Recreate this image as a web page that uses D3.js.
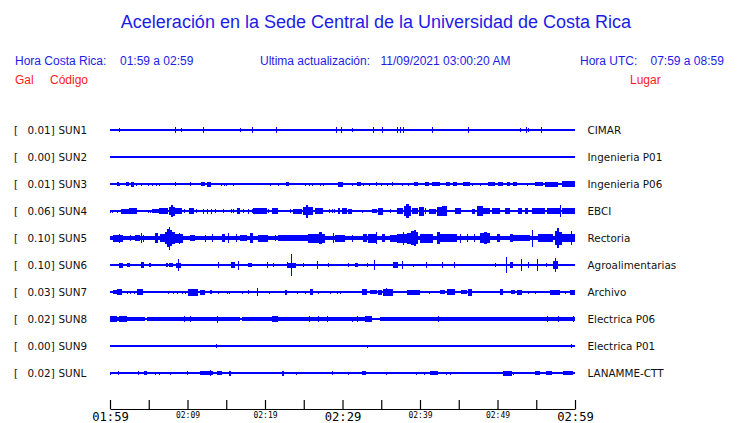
<!DOCTYPE html>
<html>
<head>
<meta charset="utf-8">
<script src="https://cdn.jsdelivr.net/npm/d3@7/dist/d3.min.js"></script>
<style>
  html, body { margin: 0; padding: 0; background: #ffffff; }
  svg { display: block; }
</style>
</head>
<body>
<svg id="chart" width="740" height="423"></svg>
<script>
// ---------------- DATA ----------------
const titleText = "Aceleración en la Sede Central de la Universidad de Costa Rica";
const headerLocal = ["Hora Costa Rica:", "01:59 a 02:59"];
const headerUpdate = ["Ultima actualización:", "11/09/2021 03:00:20 AM"];
const headerUtc = ["Hora UTC:", "07:59 a 08:59"];
const columnHeads = ["Gal", "Código", "Lugar"];

const stations = ["SUN1", "SUN2", "SUN3", "SUN4", "SUN5", "SUN6", "SUN7", "SUN8", "SUN9", "SUNL"];
const places = ["CIMAR", "Ingenieria P01", "Ingenieria P06", "EBCI", "Rectoria",
                "Agroalimentarias", "Archivo", "Electrica P06", "Electrica P01", "LANAMME-CTT"];
const peakGal = [0.01, 0.00, 0.01, 0.06, 0.10, 0.10, 0.03, 0.02, 0.00, 0.02];
// background noise half-amplitude of each trace (relative units)
const baseNoise = [1, 1, 1, 1, 2.2, 1, 1, 1, 1, 1];

// time axis (minutes after 01:59)
const timeDomain = [0, 60];
const tickMinutes = [0, 5, 10, 15, 20, 25, 30, 35, 40, 45, 50, 55, 60];
const tickLabels = ["01:59", "", "02:09", "", "02:19", "", "02:29", "", "02:39", "", "02:49", "", "02:59"];
const majorTickLabels = ["01:59", "02:29", "02:59"];

// envelope bursts per trace: [start minute, end minute, half amplitude]
const sun1Events = [[1.2,1.35,2],[8.43,8.57,3],[9.12,9.26,2],[12.04,12.18,3],[16.81,16.95,2],[18.36,18.5,3],
  [21.46,21.6,3],[29.2,29.34,3],[29.85,29.99,3],[31.19,31.33,2],[33.97,34.11,3],[35.14,35.28,3],
  [37.07,37.21,3],[37.42,37.56,3],[37.85,37.99,3],[41.59,41.73,3],[46.23,46.37,3],[52.9,53.04,2],
  [53.68,53.82,3],[53.97,54.11,2],[55.65,55.79,3]];
const sun2Events = [];
const sun3Events = [[0.86,1.1,2],[1.2,1.35,1.5],[2.06,2.49,2],[2.71,3.14,2.5],[3.32,3.45,1.5],[4.0,4.13,1.5],
  [4.86,5.0,1.5],[5.46,5.6,1.5],[5.94,6.08,1.5],[6.36,6.5,1.5],[8.43,8.57,2],[10.36,10.5,2],[11.7,12.26,2],
  [12.48,13.03,2.5],[14.28,14.42,1.5],[14.71,14.85,1.5],[15.01,15.15,1.5],[15.87,16.0,1.5],[20.68,20.82,1.5],
  [21.68,21.82,1.5],[22.71,23.1,2],[25.2,25.34,1.5],[25.64,25.78,1.5],[26.06,26.2,1.5],[27.1,27.24,1.5],
  [27.52,27.66,1.5],[29.46,30.1,2.5],[31.19,31.33,1.5],[31.83,32.35,2],[32.6,32.74,1.5],[33.46,33.6,1.5],
  [34.32,34.46,2],[34.97,35.1,1.5],[35.7,35.84,1.5],[36.35,36.56,2],[37.64,37.78,1.5],[38.49,38.63,1.5],
  [39.23,39.78,2],[40.65,41.2,2],[41.5,42.58,2.2],[43.35,43.87,2],[44.22,44.74,2],[45.59,46.45,1.8],
  [46.75,46.9,1.5],[47.74,47.88,1.5],[48.81,49.68,2.2],[50.1,50.75,2],[51.19,51.61,1.8],[52.04,52.48,1.8],
  [53.77,53.9,1.5],[54.84,55.91,2.2],[56.13,57.85,2.5],[58.28,60,2.8]];
const sun4Events = [[0.0,0.15,1.5],[0.3,0.45,1.5],[0.86,1.0,1.5],[1.38,2.5,2.5],[2.5,3.45,2.8],[4.86,5.0,1.5],
  [5.16,5.3,1.5],[5.38,6.3,2],[6.3,7.52,3],[7.61,7.85,4],[7.85,8.1,5.8],[8.1,8.39,4.5],[8.39,9.25,2.8],
  [9.59,9.73,2],[10.19,10.88,2.8],[11.06,11.2,2],[11.96,12.1,2.5],[12.48,12.62,2.5],[12.99,13.13,2.5],
  [13.55,13.69,2],[14.62,14.76,2],[15.57,15.71,2],[15.83,15.97,2],[16.35,16.77,3],[17.2,17.34,2],
  [17.85,17.99,2.5],[18.28,18.42,2],[18.49,20.22,2.6],[20.43,20.57,2],[20.86,21.64,2.8],[23.26,23.4,2],
  [23.65,24.74,2.5],[24.94,25.25,4],[25.25,25.6,6.5],[25.6,26.23,4],[26.45,27.52,2.8],[28.26,28.4,2],
  [28.61,28.75,2],[28.94,29.08,2],[29.38,29.68,2.8],[29.9,30.54,2.8],[30.71,31.19,2.5],[32.48,32.62,1.5],
  [33.77,34.41,2.2],[34.62,35.26,3.5],[36.13,36.27,2],[36.99,37.85,3],[37.97,38.2,5],[38.2,38.55,7],
  [38.55,38.8,5],[38.93,39.78,3],[39.91,40.52,4.5],[40.6,40.8,3],[41.2,42.06,2.5],[42.15,42.8,4.5],
  [42.8,43.45,5],[44.52,45.25,3],[46.67,47.1,2.5],[47.32,48.17,5],[48.17,49.03,3],[49.25,50.32,3],
  [50.97,51.61,3],[52.68,53.12,3],[53.55,53.97,3],[54.41,56.13,2.8],[56.35,58.0,2.8],[58.0,58.15,6],
  [58.28,60,3]];
const sun5Events = [[0.43,1.72,3.5],[1.2,1.35,4.5],[2.58,2.72,3],[3.23,3.87,3.2],[4.0,4.13,5],[4.3,4.44,3.5],
  [5.85,6.15,5],[6.45,7.1,4],[7.1,7.4,6],[7.4,7.55,9],[7.55,7.75,11.5],[7.75,8.0,8],[8.0,8.4,6],
  [8.4,9.46,4.5],[8.9,9.04,5.5],[10.32,10.97,3.2],[12.26,12.4,3.5],[13.12,13.26,4],[14.49,14.84,4],
  [15.26,15.4,5],[16.26,16.4,4],[16.77,17.64,3.2],[18.06,18.49,5],[19.1,20.39,3.5],[21.29,21.43,3],
  [21.68,25.55,3],[25.59,27.74,4.5],[27.0,27.3,5.7],[28.74,28.88,5],[29.03,30.32,3.5],[31.19,31.33,3.5],
  [32.68,33.12,4],[33.33,34.41,4.5],[34.28,34.42,6],[35.06,35.48,4],[36.13,36.99,3.5],[36.99,38.28,4.5],
  [37.85,37.99,6.5],[38.28,38.9,5.5],[38.9,39.2,7],[39.2,39.5,8],[39.5,39.78,6],[40.0,41.68,4.5],
  [42.15,42.58,6],[42.58,44.74,4],[45.2,45.34,4.5],[46.0,46.14,4],[47.0,47.14,4],[47.74,49.03,5],
  [48.3,48.6,6],[49.9,50.32,3.8],[51.61,52.04,4.2],[52.04,54.2,3],[54.49,54.63,8.5],[55.26,57.2,4],
  [57.4,57.65,7],[57.65,57.9,10],[57.9,58.28,6.5],[58.28,60,4],[59.42,59.56,7]];
const sun6Events = [[1.16,1.64,2.5],[2.15,2.58,2],[3.96,4.39,3],[5.03,5.25,2],[7.23,7.52,2],[7.61,8.17,2],
  [8.5,9.1,2.5],[8.72,8.86,6.2],[13.98,14.12,3],[15.61,16.13,3],[16.48,16.62,4.5],[17.85,18.37,2],
  [20.3,20.44,3],[20.99,21.13,2],[22.88,23.02,3],[23.0,24.0,2.5],[23.39,23.53,11],[24.94,25.08,2],
  [26.67,26.81,4],[28.09,28.23,2],[30.75,30.89,2],[31.61,32.04,2],[33.12,33.26,2],[34.1,34.24,5],
  [36.57,37.2,3],[37.64,37.78,4],[39.05,39.19,1.5],[40.77,40.91,3],[42.88,43.02,3],[44.43,44.57,3],
  [49.68,49.82,2],[51.14,51.28,8],[51.6,52.04,3],[52.99,53.13,6],[53.9,54.04,3],[55.06,55.2,6],
  [56.22,56.36,2],[57.2,57.85,4],[57.42,57.56,7]];
const sun7Events = [[0.43,0.86,2],[0.86,1.51,3.2],[2.15,2.29,1.5],[2.58,2.72,1.5],[3.14,3.28,1.5],[3.44,4.3,3],
  [7.53,7.67,1.5],[8.17,8.31,1.5],[8.6,8.74,1.5],[9.33,9.47,1.5],[9.68,9.82,1.5],[10.1,11.4,3.5],
  [11.6,12.26,2.5],[12.9,13.12,2],[13.98,14.12,1.5],[15.05,15.19,1.5],[15.4,15.54,1.5],[16.99,17.13,1.5],
  [17.85,17.99,2],[18.93,19.14,4],[20.56,20.7,1.5],[22.58,22.8,2.5],[24.09,24.23,1.5],[25.16,25.3,1.5],
  [25.8,26.23,3],[26.88,27.02,1.5],[28.43,28.57,1.5],[29.25,29.39,1.5],[29.68,29.82,1.5],[32.48,33.12,3],
  [33.55,34.41,2],[34.54,35.06,2.5],[35.27,36.55,3.5],[35.6,35.8,4.3],[38.28,40.0,2.5],[41.2,41.34,1.5],
  [42.58,43.23,2],[43.52,44.52,3],[45.25,46.03,2],[46.23,46.67,3.5],[50.32,50.75,3],[51.7,52.26,2],
  [52.48,53.12,2.5],[53.9,54.04,1.5],[54.84,54.98,1.5],[56.77,58.06,2.5],[58.71,58.85,1.5],[59.35,60,2.5]];
const sun8Events = [[0,0.9,2.6],[0.9,1.1,2],[1.1,2.2,2.6],[2.2,4.5,2.2],[4.75,16.8,2.1],[17.0,33.77,2.1],
  [34.84,60,2.1],[9.59,9.73,3],[10.32,10.46,3],[13.77,13.91,3.5],[20.86,21.72,2.6],[25.68,25.82,3.2],
  [26.88,27.02,3],[28.04,28.18,3],[31.19,31.33,2.5],[31.91,32.05,3],[32.9,33.77,3.2],[42.37,42.51,3],
  [56.43,56.57,3],[57.85,57.99,3],[59.78,59.92,3]];
const sun9Events = [[13.7,13.84,1.6],[33.2,33.34,1.5],[59.52,59.66,1.6]];
const sunLEvents = [[0.0,0.14,1.5],[0.99,1.13,2],[3.57,3.71,2],[4.43,4.82,2],[5.8,5.94,1.5],[6.32,6.46,1.5],
  [7.78,7.92,1.5],[9.9,10.1,2],[11.61,13.33,2.3],[12.85,13.05,3],[13.85,14.41,2],[15.4,15.61,2.5],
  [22.15,22.45,2.5],[24.0,24.14,1.5],[28.69,28.83,2],[30.75,30.89,1.5],[32.48,33.03,2.2],[35.61,35.75,1.5],
  [39.48,39.62,1.5],[40.55,40.69,1.5],[41.29,42.36,2.3],[43.32,43.46,1.5],[43.87,44.01,1.5],
  [50.75,51.83,2.5],[51.96,52.1,1.5],[54.84,55.48,2],[56.26,57.07,2],[58.49,59.78,1.8]];

const traceEvents = [sun1Events, sun2Events, sun3Events, sun4Events, sun5Events,
                     sun6Events, sun7Events, sun8Events, sun9Events, sunLEvents];

// ---------------- DRAW ----------------
const svg = d3.select("#chart");
const BLUE = "#0000ff";
const TXTBLUE = "#1c1ce6";
const RED = "#ff1a1a";

const x = d3.scaleLinear().domain(timeDomain).range([110, 575]);
const y = d3.scalePoint().domain(stations).range([130, 373]);
const amp = d3.scaleLinear().domain([0, 12]).range([0, 12]);

// title
svg.append("text").attr("x", 376).attr("y", 28).attr("text-anchor", "middle")
  .attr("font-family", "Liberation Sans, Arial, sans-serif").attr("font-size", 18)
  .attr("fill", TXTBLUE).text(titleText);

const hdr = svg.append("g").attr("font-family", "Liberation Sans, Arial, sans-serif")
  .attr("font-size", 12).attr("fill", TXTBLUE);
hdr.append("text").attr("x", 15).attr("y", 65).text(headerLocal[0]);
hdr.append("text").attr("x", 120).attr("y", 65).text(headerLocal[1]);
hdr.append("text").attr("x", 260).attr("y", 65).text(headerUpdate[0]);
hdr.append("text").attr("x", 380.5).attr("y", 65).text(headerUpdate[1]);
hdr.append("text").attr("x", 580).attr("y", 65).text(headerUtc[0]);
hdr.append("text").attr("x", 650.5).attr("y", 65).text(headerUtc[1]);

const cols = svg.append("g").attr("font-family", "Liberation Sans, Arial, sans-serif")
  .attr("font-size", 12).attr("fill", RED);
cols.append("text").attr("x", 15).attr("y", 84).text(columnHeads[0]);
cols.append("text").attr("x", 50).attr("y", 84).text(columnHeads[1]);
cols.append("text").attr("x", 630).attr("y", 84).text(columnHeads[2]);

// left & right labels
const lab = svg.append("g").attr("font-family", "DejaVu Sans, sans-serif").attr("font-size", 10.4).attr("fill", "#111");
stations.forEach((s, i) => {
  const yy = y(s) + 4;
  lab.append("text").attr("x", 14).attr("y", yy).text("[");
  lab.append("text").attr("x", 27.5).attr("y", yy).text(peakGal[i].toFixed(2) + "]");
  lab.append("text").attr("x", 58.5).attr("y", yy).text(s);
  lab.append("text").attr("x", 587.5).attr("y", yy).text(places[i]);
});

// traces
const tr = svg.append("g").attr("shape-rendering", "crispEdges").attr("fill", BLUE);
stations.forEach((s, i) => {
  const cy = y(s);
  const g = tr.append("g");
  // baseline noise band
  const b = amp(baseNoise[i]);
  g.append("rect").attr("x", x(timeDomain[0])).attr("width", x(timeDomain[1]) - x(timeDomain[0]))
    .attr("y", cy - b).attr("height", 2 * b);
  g.selectAll("rect.ev").data(traceEvents[i]).join("rect").attr("class", "ev")
    .attr("x", d => x(d[0]))
    .attr("width", d => Math.max(1, x(d[1]) - x(d[0])))
    .attr("y", d => cy - amp(d[2]))
    .attr("height", d => 2 * amp(d[2]));
});

// time axis
const axis = d3.axisBottom(x).tickValues(tickMinutes).tickSize(-9).tickSizeOuter(0)
  .tickPadding(0).tickFormat((d, i) => tickLabels[i]);
const ag = svg.append("g").attr("transform", "translate(0,409)").call(axis);
ag.select(".domain").attr("stroke", "#000").attr("stroke-width", 1.2);
ag.selectAll(".tick line").attr("stroke", "#000").attr("stroke-width", 1.2);
ag.selectAll(".tick text")
  .attr("fill", "#000")
  .attr("font-family", "DejaVu Sans Mono, monospace")
  .attr("dy", null)
  .each(function (d, i) {
    const big = majorTickLabels.includes(tickLabels[i]);
    d3.select(this).attr("font-size", big ? 12.2 : 8).attr("y", big ? 11.5 : 8.5);
  });
</script>
</body>
</html>
